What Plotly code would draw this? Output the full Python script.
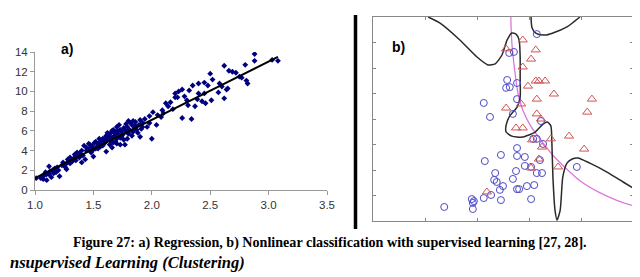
import plotly.graph_objects as go

# ---------------- Panel a) regression data ----------------
reg_x = [1.01, 1.06, 1.07, 1.09, 1.10, 1.12, 1.14, 1.16, 1.17, 1.20, 1.23, 1.26, 1.27, 1.30, 1.30,
         1.33, 1.34, 1.36, 1.38, 1.40, 1.41, 1.43, 1.44, 1.47, 1.48, 1.50, 1.51, 1.53, 1.54, 1.56,
         1.57, 1.58, 1.60, 1.61, 1.62, 1.64, 1.65, 1.66, 1.67, 1.68, 1.69, 1.70, 1.71, 1.73, 1.73,
         1.75, 1.76, 1.78, 1.79, 1.80, 1.81, 1.83, 1.84, 1.85, 1.87, 1.88, 1.90, 1.91, 1.92, 1.96,
         2.00, 1.77, 1.73, 1.67, 1.61, 1.50, 1.40, 1.27, 1.21, 1.10,
         1.62, 1.64, 1.66, 1.69, 1.70, 1.72, 1.74, 1.76, 1.78, 1.80, 1.82, 1.58, 1.55, 1.52, 1.46,
         1.42, 1.38, 1.35, 1.32, 1.28, 1.24, 1.18, 1.15, 1.12, 1.05, 1.08, 1.86, 1.89, 1.94, 1.98,
         1.83, 1.79,
         1.44, 1.46, 1.49, 1.52, 1.56, 1.59, 1.63, 1.65, 1.68, 1.71, 1.74, 1.77, 1.81, 1.84, 1.86,
         1.70, 1.66, 1.60, 1.54, 1.48, 1.36, 1.31, 1.25, 1.19, 1.13, 2.05, 2.08, 2.14, 2.16, 2.28,
         1.90, 1.92, 1.98, 2.01, 2.04, 2.09, 2.10, 2.12, 2.18, 2.20, 2.20, 2.22, 2.23, 2.26, 2.26,
         2.30, 2.31, 2.32, 2.34, 2.35, 2.37, 2.39, 2.40, 2.40, 2.43, 2.45, 2.45, 2.46, 2.48, 2.50,
         2.51, 2.52, 2.57, 2.58, 2.60, 2.62, 2.62, 2.64, 2.65, 2.66, 2.69, 2.72, 2.75, 2.77, 2.80,
         2.81, 2.82, 2.88, 2.88, 3.03, 3.08]
reg_y = [1.2, 1.4, 1.1, 1.8, 1.6, 2.4, 1.3, 1.7, 2.2, 2.0, 2.5, 2.3, 2.7, 2.7, 3.3,
         3.2, 3.6, 3.8, 3.3, 4.0, 3.5, 3.1, 4.3, 4.6, 3.8, 4.1, 4.8, 4.4, 4.2, 4.9,
         4.6, 5.2, 4.8, 5.5, 5.1, 4.6, 5.8, 5.3, 6.1, 5.5, 4.9, 6.4, 5.7, 5.3, 6.1,
         5.6, 6.3, 5.9, 6.4, 7.0, 6.1, 6.6, 7.0, 6.3, 6.1, 5.8, 5.4, 6.2, 6.8, 6.4,
         5.2, 4.6, 4.6, 4.8, 3.9, 3.4, 2.8, 2.1, 1.4, 1.0,
         5.8, 5.4, 6.0, 5.9, 5.2, 6.6, 5.9, 5.1, 6.7, 5.7, 6.8, 4.5, 5.2, 4.2, 4.1,
         4.5, 3.7, 3.0, 2.9, 3.1, 2.8, 1.8, 2.0, 1.6, 1.2, 1.5, 6.9, 6.6, 7.2, 7.5,
         5.5, 5.2,
         4.0, 4.7, 4.5, 4.9, 4.4, 5.0, 5.6, 5.0, 5.8, 6.0, 5.4, 6.1, 6.0, 5.9, 6.5,
         4.7, 4.3, 5.3, 4.7, 4.4, 3.4, 3.0, 2.5, 2.3, 1.9, 7.6, 7.4, 8.5, 8.9, 9.5,
         7.1, 6.4, 6.8, 7.9, 6.6, 8.1, 7.8, 8.8, 8.2, 9.8, 9.4, 9.4, 10.0, 10.2, 7.3,
         9.1, 8.6, 10.1, 7.2, 10.6, 8.5, 9.2, 10.8, 9.8, 9.0, 10.9, 9.8, 8.8, 10.6, 11.8,
         9.1, 11.2, 9.9, 10.8, 10.5, 12.6, 9.3, 10.2, 10.3, 12.1, 12.0, 11.9, 11.5, 11.4, 12.7,
         11.1, 10.8, 13.8, 13.1, 13.2, 13.1]
fit_x = [1.0, 3.08]
fit_y = [1.2, 13.5]
a_xticks = [1.0, 1.5, 2.0, 2.5, 3.0, 3.5]
a_yticks = [0, 2, 4, 6, 8, 10, 12, 14]

# ---------------- Panel b) classification data ----------------
circ_x = [3.15, 2.62, 2.71, 2.58, 2.56, 2.63, 2.77, 2.77, 2.13, 2.25, 2.69, 3.23, 3.08, 3.15, 3.27,
          2.77, 2.15, 2.46, 2.77, 2.92, 3.21, 2.92, 3.04, 2.75, 3.15, 3.25, 2.35, 2.33, 2.38, 2.69,
          2.50, 2.77, 2.81, 2.96, 3.10, 2.44, 2.27, 2.13, 2.46, 3.04, 3.92, 1.90, 1.94, 1.92, 1.92,
          1.37]
circ_y = [7.33, 6.59, 6.63, 5.53, 5.22, 5.25, 5.41, 4.78, 4.63, 4.08, 4.20, 3.92, 3.22, 3.22, 3.02,
          2.86, 2.35, 2.59, 2.55, 2.51, 2.39, 2.16, 2.12, 1.96, 1.88, 1.88, 1.88, 1.61, 1.53, 1.65,
          1.37, 1.25, 1.25, 1.37, 1.41, 1.22, 1.02, 0.90, 0.82, 0.86, 2.12, 0.86, 0.78, 0.71, 0.47,
          0.55]
tri_x = [2.88, 2.56, 3.13, 3.04, 2.88, 3.13, 3.19, 3.31, 2.98, 3.48, 3.15, 4.21, 2.85, 2.56, 4.12,
         3.15, 3.23, 2.75, 2.88, 3.42, 3.77, 3.06, 3.25, 4.06, 3.19, 3.04, 3.56, 2.19]
tri_y = [7.10, 6.75, 6.71, 6.35, 6.04, 5.49, 5.49, 5.49, 5.29, 4.98, 4.78, 4.78, 4.59, 4.43, 4.27,
         4.20, 4.00, 3.65, 3.65, 3.22, 3.33, 3.18, 2.90, 2.82, 2.43, 2.08, 2.12, 1.14]
linear_x = [2.65, 2.67, 2.72, 2.79, 2.88, 3.04, 3.22, 3.45, 3.72, 4.00, 4.35, 4.70, 5.00]
linear_y = [8.0, 7.0, 6.0, 5.0, 4.35, 3.7, 3.2, 2.6, 2.05, 1.55, 1.12, 0.8, 0.6]
bound1_x = [1.06, 1.29, 1.67, 2.00, 2.21, 2.35, 2.48, 2.58, 2.67, 2.75, 2.81, 2.83, 2.83, 2.83,
            2.77, 2.63, 2.56, 2.56, 2.67, 2.87, 3.12, 3.27, 3.35, 3.42, 3.44, 3.46, 3.50, 3.54,
            3.60, 3.65, 3.73, 3.83, 3.94, 4.17, 4.50, 4.81, 5.00]
bound1_y = [8.0, 7.76, 7.10, 6.43, 6.12, 6.16, 6.51, 7.10, 7.37, 7.33, 7.10, 6.43, 5.65, 4.86,
            4.47, 4.12, 3.76, 3.49, 3.33, 3.29, 3.49, 3.80, 3.88, 3.73, 3.06, 1.73, 0.43, 0.04,
            0.43, 1.73, 2.27, 2.43, 2.47, 2.27, 1.92, 1.53, 1.29]
bound2_x = [3.04, 3.06, 3.13, 3.31, 3.46, 3.73, 3.88, 3.98]
bound2_y = [8.0, 7.57, 7.37, 7.29, 7.37, 7.61, 7.84, 8.0]

caption = "Figure 27: a) Regression, b) Nonlinear classification with supervised learning [27, 28]."
next_heading = "nsupervised Learning (Clustering)"

W, H = 640, 277
OFF = 8  # page body margin of the host page


def px(p):
    return (p - OFF) / W


def py(p):
    return 1 - (p - OFF) / H


fig = go.Figure()

# panel a
fig.add_trace(go.Scatter(x=reg_x, y=reg_y, mode="markers", xaxis="x", yaxis="y",
                         marker=dict(symbol="diamond", size=4.5, color="#00007f"), hoverinfo="skip"))
fig.add_trace(go.Scatter(x=fit_x, y=fit_y, mode="lines", xaxis="x", yaxis="y",
                         line=dict(color="#000000", width=2)))

# panel b
fig.add_trace(go.Scatter(x=linear_x, y=linear_y, mode="lines", xaxis="x2", yaxis="y2",
                         line=dict(color="#dd77dd", width=1.3, shape="spline", smoothing=1.0)))
fig.add_trace(go.Scatter(x=bound1_x, y=bound1_y, mode="lines", xaxis="x2", yaxis="y2",
                         line=dict(color="#2a2a2a", width=1.5, shape="spline", smoothing=0.6)))
fig.add_trace(go.Scatter(x=bound2_x, y=bound2_y, mode="lines", xaxis="x2", yaxis="y2",
                         line=dict(color="#2a2a2a", width=1.5, shape="spline", smoothing=0.8)))
fig.add_trace(go.Scatter(x=circ_x, y=circ_y, mode="markers", xaxis="x2", yaxis="y2",
                         marker=dict(symbol="circle-open", size=7, color="#4a4ac8", line=dict(width=1))))
fig.add_trace(go.Scatter(x=tri_x, y=tri_y, mode="markers", xaxis="x2", yaxis="y2",
                         marker=dict(symbol="triangle-up-open", size=8, color="#d05555", line=dict(width=1))))

tickfont_a = dict(family="Arial, Liberation Sans", size=11.5, color="#333333")
fig.update_layout(
    width=W, height=H, margin=dict(l=0, r=0, t=0, b=0, autoexpand=False),
    paper_bgcolor="white", plot_bgcolor="rgba(0,0,0,0)", showlegend=False,
    xaxis=dict(domain=[px(35), px(327)], range=[1.0, 3.5], tickvals=a_xticks,
               ticktext=["%.1f" % v for v in a_xticks], showgrid=False, zeroline=False,
               showline=True, linecolor="#999999", linewidth=1, ticks="outside", ticklen=4,
               tickcolor="#999999", tickfont=tickfont_a, anchor="y", automargin=False),
    yaxis=dict(domain=[py(190), py(52)], range=[0, 14], tickvals=a_yticks,
               showgrid=False, zeroline=False, showline=True, linecolor="#999999", linewidth=1,
               ticks="outside", ticklen=4, tickcolor="#999999", tickfont=tickfont_a, anchor="x",
               automargin=False),
    xaxis2=dict(domain=[px(373), px(633)], range=[0, 5], dtick=1, showticklabels=False,
                showgrid=False, zeroline=False, showline=True, mirror="ticks", linecolor="#888888",
                linewidth=1, ticks="inside", ticklen=3, tickcolor="#888888", anchor="y2", automargin=False),
    yaxis2=dict(domain=[py(221), py(17)], range=[0, 8], dtick=1, showticklabels=False,
                showgrid=False, zeroline=False, showline=True, mirror="ticks", linecolor="#888888",
                linewidth=1, ticks="inside", ticklen=3, tickcolor="#888888", anchor="x2", automargin=False),
    shapes=[dict(type="line", xref="paper", yref="paper", x0=px(355.5), x1=px(355.5),
                 y0=py(15), y1=py(229), line=dict(color="black", width=3.5))],
    annotations=[
        dict(text="<b>a)</b>", x=px(59), y=py(39), xref="paper", yref="paper", showarrow=False,
             font=dict(family="Arial, Liberation Sans", size=14, color="black")),
        dict(text="<b>b)</b>", x=px(398), y=py(37), xref="paper", yref="paper", showarrow=False,
             font=dict(family="Arial, Liberation Sans", size=14, color="black")),
        dict(text="<b>" + caption + "</b>", x=px(330), y=py(253), xref="paper", yref="paper",
             showarrow=False, font=dict(family="Liberation Serif", size=14.1, color="black")),
        dict(text="<b><i>" + next_heading + "</i></b>", x=0, y=py(274), xref="paper", yref="paper",
             xanchor="left", showarrow=False, font=dict(family="Liberation Serif", size=16.5, color="black")),
    ],
)

fig.write_html("out.html")
